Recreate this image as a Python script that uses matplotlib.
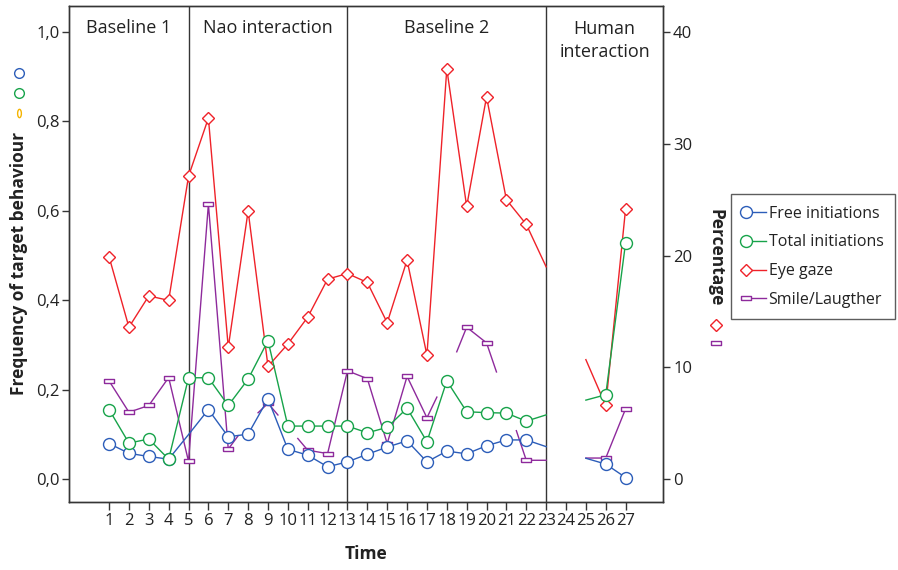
import numpy as np
import matplotlib
matplotlib.use('Agg')
import matplotlib.pyplot as plt
from matplotlib.lines import Line2D
from matplotlib.legend_handler import HandlerLine2DCompound
from matplotlib.ticker import FuncFormatter
import matplotlib.transforms as mtransforms

plt.rcParams['font.family'] = ['Open Sans', 'DejaVu Sans']

nan = np.nan
time = list(range(1, 28))

# left axis: frequency of target behaviour
free_init = [0.080, 0.058, 0.051, 0.045, 0.100, 0.156, 0.095, 0.101, 0.180, 0.067,
             0.054, 0.028, 0.039, 0.056, 0.072, 0.086, 0.039, 0.063, 0.057, 0.075,
             0.088, 0.088, 0.073, nan, 0.047, 0.034, 0.004]
total_init = [0.156, 0.081, 0.090, 0.045, 0.227, 0.227, 0.165, 0.224, 0.310, 0.119,
              0.119, 0.119, 0.119, 0.104, 0.116, 0.159, 0.084, 0.220, 0.151, 0.149,
              0.148, 0.130, 0.144, nan, 0.177, 0.189, 0.529]

# right axis: percentage
eye_gaze = [19.9, 13.6, 16.4, 16.0, 27.1, 32.3, 11.8, 24.0, 10.1, 12.1,
            14.5, 17.9, 18.4, 17.6, 14.0, 19.6, 11.1, 36.7, 24.4, 34.2,
            25.0, 22.8, 19.0, nan, 10.7, 6.6, 24.2]
smile = [8.8, 6.0, 6.6, 9.1, 1.6, 24.6, 2.7, 5.1, 6.8, 4.7,
         2.6, 2.3, 9.7, 9.0, 3.2, 9.2, 5.5, 9.2, 13.6, 12.2,
         7.0, 1.7, 1.7, nan, 1.9, 1.9, 6.3]

# points whose own half-segments are not drawn (only the stubs from neighbours show)
smile_hidden = [8, 10, 18, 21]
# points drawn without a marker
free_unmarked = [5, 23, 25]
unmarked = [23, 25]

phase_bounds = [5, 13, 23]
phase_names = ['Baseline 1', 'Nao interaction', 'Baseline 2', 'Human\ninteraction']

series = [
    # label, values, hidden, unmarked, colour, marker, size, right axis
    ('Smile/Laugther', smile, smile_hidden, unmarked, '#8E2A9C', 'rect', 7.0, True),
    ('Eye gaze', eye_gaze, [], unmarked, '#EF2229', 'D', 5.8, True),
    ('Free initiations', free_init, [], free_unmarked, '#2C5DB9', 'o', 8.6, False),
    ('Total initiations', total_init, [], unmarked, '#17A34A', 'o', 8.6, False),
]
legend_order = ['Free initiations', 'Total initiations', 'Eye gaze', 'Smile/Laugther']

rect = [(-1, -0.5), (1, -0.5), (1, 0.5), (-1, 0.5), (-1, -0.5)]
ang = np.linspace(0, 2 * np.pi, 40)
ellipse = list(zip(0.45 * np.cos(ang), np.sin(ang)))
dark = '#353535'


def half_segments(vals, hidden):
    # every visible point owns the line up to the midpoints with its neighbours
    xs, ys = [], []
    n = len(vals)
    for i in range(n):
        t = time[i]
        if t in hidden or np.isnan(vals[i]):
            xs.append(nan)
            ys.append(nan)
            continue
        if i > 0 and not np.isnan(vals[i - 1]):
            xs.append(t - 0.5)
            ys.append((vals[i - 1] + vals[i]) / 2)
        xs.append(t)
        ys.append(vals[i])
        if i < n - 1 and not np.isnan(vals[i + 1]):
            xs.append(t + 0.5)
            ys.append((vals[i] + vals[i + 1]) / 2)
    return xs, ys


class MarkerLeft(HandlerLine2DCompound):
    def get_xdata(self, legend, xdescent, ydescent, width, height, fontsize):
        xm = -xdescent + 0.15 * width
        return np.array([xm, -xdescent + width]), np.array([xm])


fig = plt.figure(figsize=(8.98, 5.70), dpi=100)
ax = fig.add_axes([0.0772, 0.1188, 0.6615, 0.8712])
ax2 = ax.twinx()

ax.set_xlim(-1.0, 28.9)
ax.set_ylim(-0.0514, 1.0588)
ax2.set_ylim(-2.056, 42.35)

for b in phase_bounds:
    ax.axvline(b, color=dark, lw=1.0, zorder=1)

edges = [ax.get_xlim()[0]] + phase_bounds + [ax.get_xlim()[1]]
btrans = mtransforms.blended_transform_factory(ax.transData, ax.transAxes)
for k, name in enumerate(phase_names):
    xc = (edges[k] + edges[k + 1]) / 2
    yc = 0.93 if '\n' in name else 0.955
    ax.text(xc, yc, name, transform=btrans, ha='center', va='center',
            fontsize=13, color='#222222', linespacing=1.3)

handles = {}
for z, (label, vals, hidden, nomark, col, mk, ms, right) in enumerate(series):
    trans = ax2.transData if right else ax.transData
    marker = rect if mk == 'rect' else mk
    xs, ys = half_segments(vals, hidden)
    ax.plot(xs, ys, color=col, lw=1.0, transform=trans, zorder=2 + z)
    mx = [t for t, v in zip(time, vals)
          if not np.isnan(v) and t not in hidden and t not in nomark]
    my = [v for t, v in zip(time, vals)
          if not np.isnan(v) and t not in hidden and t not in nomark]
    ax.plot(mx, my, ls='none', marker=marker, ms=ms, mfc='white', mec=col,
            mew=1.0, transform=trans, zorder=2.5 + z)
    handles[label] = Line2D([], [], color=col, lw=1.0, marker=marker, ms=ms,
                            mfc='white', mec=col, mew=1.0)

ax.set_xticks(time)
ax.set_xticklabels([str(t) for t in time])
ax.set_yticks([0, 0.2, 0.4, 0.6, 0.8, 1.0])
ax.yaxis.set_major_formatter(FuncFormatter(lambda v, p: f'{v:.1f}'.replace('.', ',')))
ax2.set_yticks([0, 10, 20, 30, 40])

for a in (ax, ax2):
    for s in a.spines.values():
        s.set_color(dark)
        s.set_linewidth(1.0)
ax.tick_params(axis='x', length=6, width=1.0, color=dark, labelsize=12, pad=2,
               labelcolor='#222222')
ax.tick_params(axis='y', length=5, width=1.0, color=dark, labelsize=12, pad=2,
               labelcolor='#222222')
ax2.tick_params(axis='y', length=5, width=1.0, color=dark, labelsize=12, pad=2,
                labelcolor='#222222')

ax.set_xlabel('Time', fontsize=12.5, fontweight='bold', labelpad=11, color='#222222')

fig.text(0.021, 0.538, 'Frequency of target behaviour', rotation=90, ha='center',
         va='center', fontsize=12.5, fontweight='bold', color='#222222')
fig.text(0.797, 0.548, 'Percentage', rotation=270, ha='center', va='center',
         fontsize=12.5, fontweight='bold', color='#222222')

# small key markers next to the axis titles
fig.add_artist(Line2D([0.021], [0.8725], marker='o', ms=7, mfc='white',
                      mec='#2C5DB9', mew=1.0, transform=fig.transFigure))
fig.add_artist(Line2D([0.021], [0.836], marker='o', ms=7, mfc='white',
                      mec='#17A34A', mew=1.0, transform=fig.transFigure))
fig.add_artist(Line2D([0.021], [0.801], marker=ellipse, ms=6, mfc='white',
                      mec='#F5B400', mew=1.0, transform=fig.transFigure))
fig.add_artist(Line2D([0.797], [0.43], marker='D', ms=5.8, mfc='white',
                      mec='#EF2229', mew=1.0, transform=fig.transFigure))
fig.add_artist(Line2D([0.797], [0.399], marker=rect, ms=7, mfc='white',
                      mec='#8E2A9C', mew=1.0, transform=fig.transFigure))

leg = fig.legend([handles[k] for k in legend_order], legend_order,
                 loc='upper left', bbox_to_anchor=(0.814, 0.659),
                 bbox_transform=fig.transFigure, borderaxespad=0,
                 fontsize=11.5, frameon=True, fancybox=False, shadow=False,
                 handlelength=1.5, handletextpad=0.15, labelspacing=0.8,
                 borderpad=0.7, handler_map={Line2D: MarkerLeft()})
leg.get_frame().set_edgecolor(dark)
leg.get_frame().set_linewidth(1.0)
for t in leg.get_texts():
    t.set_color('#222222')

fig.savefig('out.png', dpi=100)
